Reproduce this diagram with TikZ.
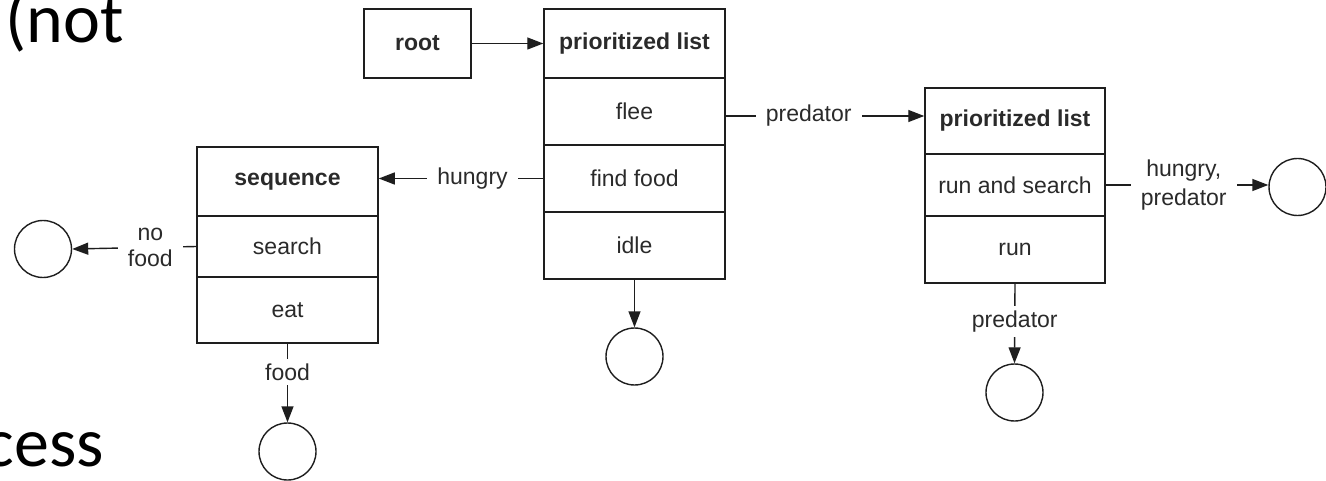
\documentclass[tikz,border=0pt]{standalone}
\usepackage{fontspec}
\setmainfont{Liberation Sans}
\newfontfamily\slidefont{Carlito}
\usetikzlibrary{arrows.meta}
\definecolor{ink}{HTML}{1E1E1E}
\definecolor{txt}{HTML}{2A2A2A}
\tikzset{
  cell/.style={draw=ink, line width=1.5pt, inner sep=0pt, text=txt,
    font=\fontsize{23}{28}\selectfont},
  endstate/.style={circle, draw=ink, line width=1.4pt, minimum size=57pt, inner sep=0pt},
  link/.style={draw=ink, line width=1.4pt, -{Triangle[length=16pt,width=12pt]}},
  lbl/.style={fill=white, text=txt, inner xsep=10pt, inner ysep=5pt, align=center,
    font=\fontsize{23}{27}\selectfont},
  slide/.style={inner sep=0pt, font=\slidefont\fontsize{70}{76}\selectfont, text=black}
}
\begin{document}
\begin{tikzpicture}[x=1pt, y=-1pt]
\useasboundingbox (0,0) rectangle (1326,481);

% slide text partly hidden behind the diagram
\node[slide, anchor=base west] (slnot) at (5,43) {(not};
\node[slide, anchor=base east] (slcess) at (104,466) {cess};

% root
\node[cell, minimum width=107pt, minimum height=69pt] (root) at (417.5,43.5) {\bfseries root};

% top-level prioritized list
\begin{scope}[every node/.append style={minimum width=181pt}]
\node[cell, minimum height=69pt] (pahead) at (634.5,43.5) {\bfseries prioritized list};
\node[cell, minimum height=67pt] (paflee) at (634.5,111.5) {flee};
\node[cell, minimum height=67pt] (pafind) at (634.5,178.5) {find food};
\node[cell, minimum height=67pt] (paidle) at (634.5,245.5) {idle};
\end{scope}

% sequence
\begin{scope}[every node/.append style={minimum width=181pt}]
\node[cell, minimum height=69pt] (sqhead) at (287.5,181.5) {\bfseries sequence};
\node[cell, minimum height=61pt] (sqsearch) at (287.5,246.5) {search};
\node[cell, minimum height=66pt] (sqeat) at (287.5,310) {eat};
\end{scope}

% second prioritized list
\begin{scope}[every node/.append style={minimum width=180pt}]
\node[cell, minimum height=66pt] (pbhead) at (1015,121) {\bfseries prioritized list};
\node[cell, minimum height=62pt] (pbrs) at (1015,185) {run and search};
\node[cell, minimum height=67pt] (pbrun) at (1015,249.5) {run};
\end{scope}

% end states
\node[endstate] (cleft) at (43,249) {};
\node[endstate] (cfood) at (287.5,451.5) {};
\node[endstate] (cidle) at (634.5,356.5) {};
\node[endstate] (crun) at (1014.5,392.5) {};
\node[endstate] (cright) at (1297.5,187) {};

% connectors
\coordinate (pflee) at (725,116);
\draw[link] (root.east) -- (pahead.west);
\draw[link] (pflee) -- (pflee -| pbhead.west) node[lbl, pos=0.42] {predator};
\draw[link] (pafind.west) -- (pafind.west -| sqhead.east) node[lbl, pos=0.43] {hungry};
\draw[link] (sqsearch.west) -- (cleft.east) node[lbl, pos=0.37, font=\fontsize{23}{26}\selectfont] {no\\food};
\draw[link] (sqeat.south) -- (cfood.north) node[lbl, pos=0.36, inner xsep=2pt] {food};
\draw[link] (paidle.south) -- (cidle.north);
\draw[link] (pbrun.south) -- (crun.north) node[lbl, pos=0.475, inner xsep=2pt] {predator};
\draw[link] (pbrs.east) -- (pbrs.east -| cright.west) node[lbl, pos=0.48, font=\fontsize{23}{29}\selectfont] {hungry,\\predator};
\end{tikzpicture}
\end{document}
